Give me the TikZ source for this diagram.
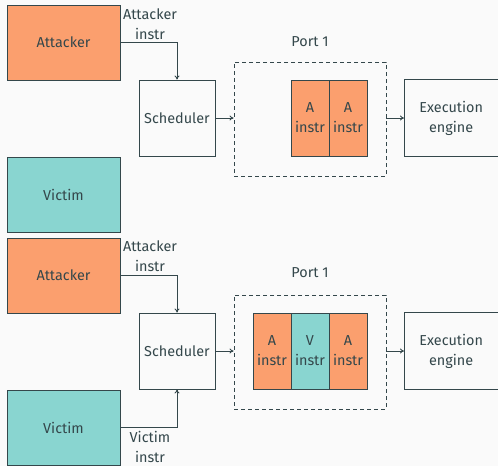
\documentclass[tikz,border=0pt]{standalone}
\usepackage{fontspec}
\setmainfont{Fira Sans}
\usetikzlibrary{arrows.meta}
\definecolor{bgc}{HTML}{FAFAFA}
\definecolor{ink}{HTML}{34474B}
\definecolor{attk}{HTML}{FB9F6E}
\definecolor{vict}{HTML}{89D5D0}
\tikzset{
  every node/.style={text=ink, font=\fontsize{14.4}{20}\selectfont, align=center},
  blk/.style={draw=ink, line width=1pt, rectangle, inner sep=0pt},
  party/.style={blk, minimum width=113pt, minimum height=75pt},
  sched/.style={blk, minimum width=76pt, minimum height=76pt},
  slot/.style={blk, minimum width=38pt, minimum height=76pt},
  port/.style={draw=ink, line width=0.9pt, dashed, dash pattern=on 4pt off 3pt, rectangle, inner sep=0pt, minimum width=152pt, minimum height=114pt},
  engine/.style={rectangle, inner sep=0pt, minimum width=94pt, minimum height=76pt},
  enginebox/.style={draw=ink, line width=1pt},
  flow/.style={draw=ink, line width=0.9pt, -{To[length=4pt,width=5pt]}},
}
\begin{document}
\begin{tikzpicture}[x=1pt,y=-1pt]
  \fill[bgc] (0,0) rectangle (498,466);
  \useasboundingbox (0,0) rectangle (498,466);

  % ---- upper scenario: attacker alone ----
  \node[party, fill=attk] (atkA) at (63.5,42.5) {Attacker};
  \node[party, fill=vict] (vicA) at (63.5,194.5) {Victim};
  \node[sched] (schA) at (177,118) {Scheduler};
  \node[port] (portA) at (310,119) {};
  \node (portAlbl) at (310,42) {Port 1};
  \node[slot, fill=attk] (qA1) at (310,118) {A\\instr};
  \node[slot, fill=attk] (qA2) at (348,118) {A\\instr};
  \node[engine, anchor=west] (exA) at (404,118) {Execution\\engine};
  \draw[enginebox] ([xshift=12pt]exA.north east) -- (exA.north west)
    -- (exA.south west) -- ([xshift=12pt]exA.south east);

  \coordinate (bendA) at (schA.north |- atkA.east);
  \draw[flow] (atkA.east) -- (bendA) -- (schA.north);
  \node (lblA) at (150,24) {Attacker\\instr};
  \draw[flow] (schA.east) -- (portA.west |- schA.east);
  \draw[flow] (portA.east |- exA.west) -- (exA.west);

  % ---- lower scenario: attacker and victim share the port ----
  \node[party, fill=attk] (atkB) at (63.5,275.5) {Attacker};
  \node[party, fill=vict] (vicB) at (63.5,427.5) {Victim};
  \node[sched] (schB) at (177,351) {Scheduler};
  \node[port] (portB) at (310,352) {};
  \node (portBlbl) at (310,273) {Port 1};
  \node[slot, fill=attk] (qB1) at (272,351) {A\\instr};
  \node[slot, fill=vict] (qB2) at (310,351) {V\\instr};
  \node[slot, fill=attk] (qB3) at (348,351) {A\\instr};
  \node[engine, anchor=west] (exB) at (404,351) {Execution\\engine};
  \draw[enginebox] ([xshift=12pt]exB.north east) -- (exB.north west)
    -- (exB.south west) -- ([xshift=12pt]exB.south east);

  \coordinate (bendB) at (schB.north |- atkB.east);
  \draw[flow] (atkB.east) -- (bendB) -- (schB.north);
  \node (lblB) at (150,256) {Attacker\\instr};
  \coordinate (bendV) at (schB.south |- vicB.east);
  \draw[flow] (vicB.east) -- (bendV) -- (schB.south);
  \node (lblV) at (150,447) {Victim\\instr};
  \draw[flow] (schB.east) -- (portB.west |- schB.east);
  \draw[flow] (portB.east |- exB.west) -- (exB.west);
\end{tikzpicture}
\end{document}
